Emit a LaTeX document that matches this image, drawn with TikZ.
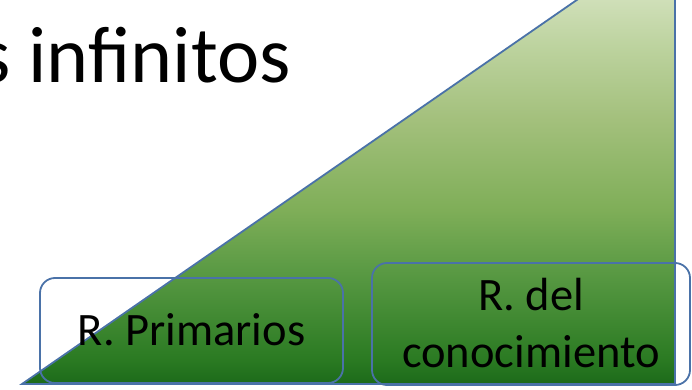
\documentclass[tikz,border=0pt]{standalone}
\usepackage{fontspec}
\setmainfont{Carlito}
\definecolor{edgeblue}{HTML}{4A72A8}
\definecolor{gA}{HTML}{CFDFB8}
\definecolor{gB}{HTML}{BDD39F}
\definecolor{gC}{HTML}{A3C07C}
\definecolor{gD}{HTML}{7FAE58}
\definecolor{gE}{HTML}{5A9A44}
\definecolor{gF}{HTML}{2A7A22}
\definecolor{gG}{HTML}{1C6A1A}
\pgfdeclareverticalshading{trigrad}{100bp}{color(0bp)=(gG); color(25bp)=(gG); color(28.1bp)=(gF); color(39.8bp)=(gE); color(47.7bp)=(gD); color(59.4bp)=(gC); color(69.1bp)=(gB); color(75bp)=(gA); color(100bp)=(gA)}
\tikzset{
  boxstyle/.style={draw=edgeblue, line width=1.8pt, rounded corners=15pt},
  boxtext/.style={font=\fontsize{46.5}{57}\selectfont, inner sep=0pt, align=center, text=black},
}
\begin{document}
\begin{tikzpicture}[x=1pt,y=1pt]
\useasboundingbox (0,0) rectangle (692,390);
\begin{scope}
\clip (0,0) rectangle (692,390);
\coordinate (A) at (22,6);
\coordinate (B) at (675,6);
\coordinate (C) at (675,458);
\begin{scope}
\clip (A) -- (B) -- (C) -- cycle;
\shade[shading=trigrad] (0,6) rectangle (692,390);
\end{scope}
\draw[edgeblue, line width=1.8pt, line join=miter] (A) -- (B) -- (C) -- cycle;
\node[anchor=base west, inner sep=0pt, font=\fontsize{80}{90}\selectfont] (title) at (-21,307) {s infinitos};
\draw[boxstyle] (40,7) rectangle (343,112);
\draw[boxstyle] (372,5) rectangle (690,127);
\node[boxtext, anchor=base] (prim) at (191.5,44) {R. Primarios};
\node[boxtext, anchor=base] (del) at (531,79) {R. del};
\node[boxtext, anchor=base] (cono) at (531,22) {conocimiento};
\end{scope}
\end{tikzpicture}
\end{document}
